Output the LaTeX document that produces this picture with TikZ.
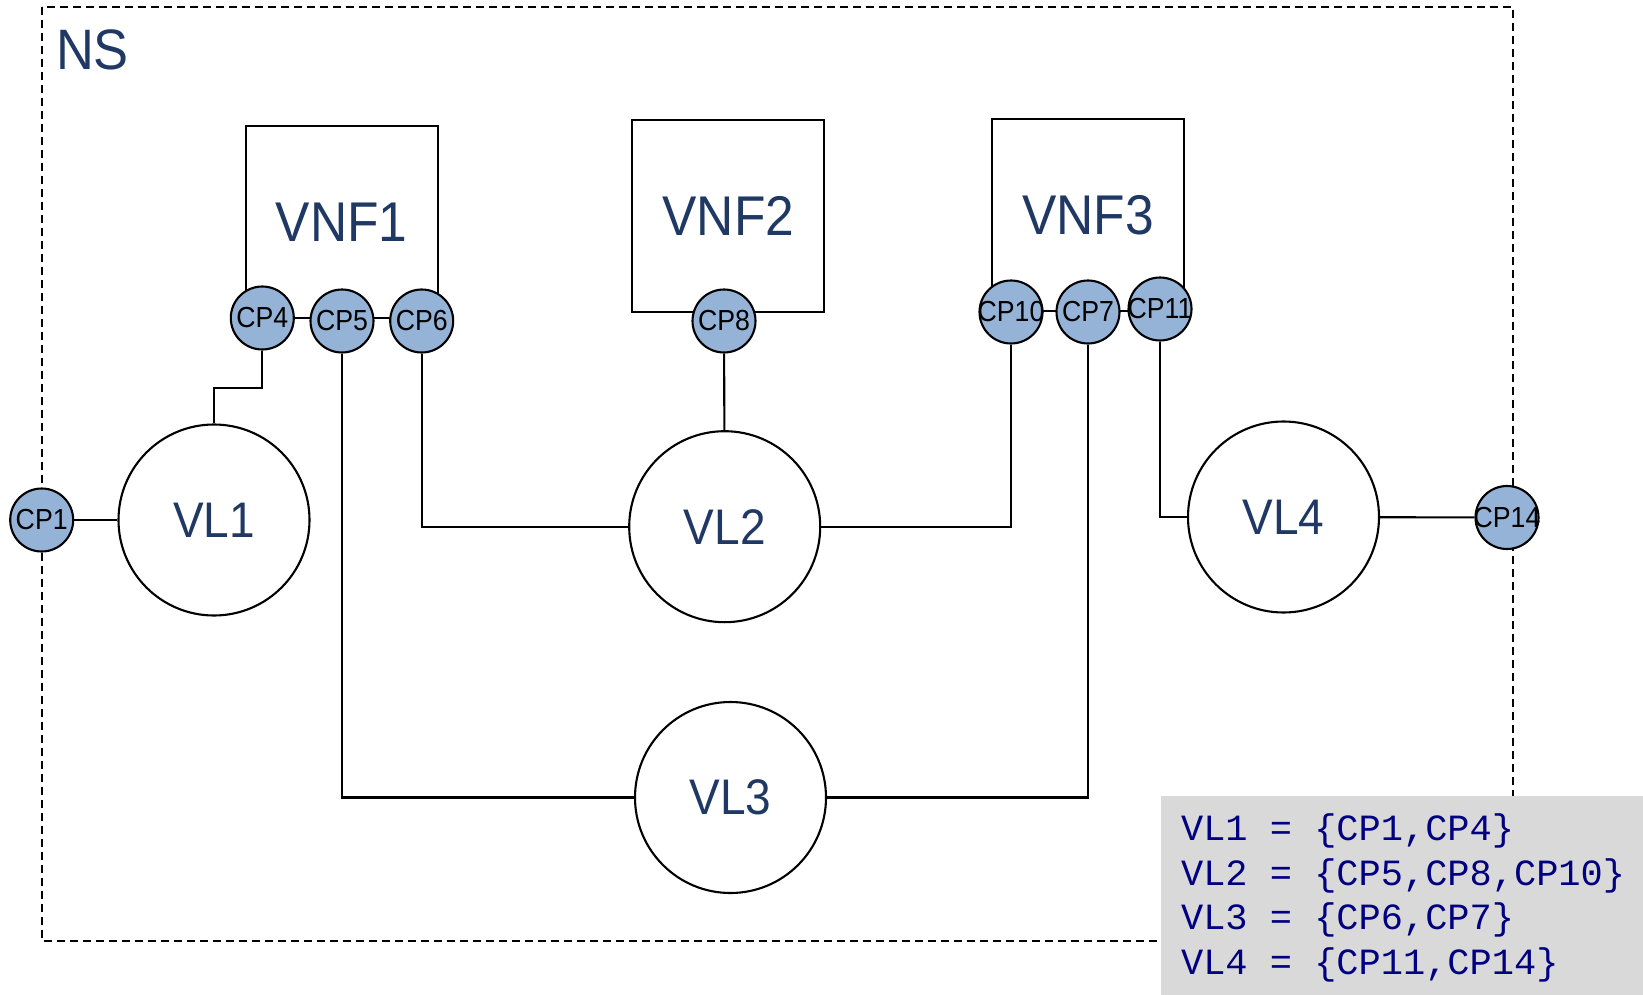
\documentclass[tikz,border=0pt]{standalone}
\usepackage{fontspec}
\newfontfamily\lblfont[FakeStretch=0.92]{Liberation Sans}
\newfontfamily\cpfont[FakeStretch=0.92]{Liberation Sans}
\newfontfamily\codefont{Liberation Mono}
\definecolor{lblblue}{RGB}{31,56,100}
\definecolor{cpfill}{RGB}{149,179,215}
\definecolor{graybg}{RGB}{217,217,217}
\definecolor{navytxt}{RGB}{0,0,128}
\newcommand{\cptext}[1]{\makebox[0pt][c]{#1}}
\begin{document}
\begin{tikzpicture}[x=1pt,y=-1pt,
  line width=2.1pt,
  vnfbox/.style={draw=black, rectangle, minimum width=192pt, minimum height=192pt, inner sep=0pt,
    text=lblblue, font=\lblfont\fontsize{56}{62}\selectfont},
  vlcirc/.style={draw=black, fill=white, circle, minimum size=191pt, inner sep=0pt,
    text=lblblue, font=\lblfont\fontsize{50}{56}\selectfont},
  cpcirc/.style={draw=black, fill=cpfill, circle, minimum size=63pt, inner sep=0pt,
    text=black, font=\cpfont\fontsize{29}{32}\selectfont},
  codeline/.style={anchor=base west, inner sep=0pt, text=navytxt,
    font=\codefont\fontsize{37}{44}\selectfont},
  nsborder/.style={draw=black, line width=1.9pt, dash pattern=on 8pt off 5pt},
  link/.style={draw=black, line width=2.1pt}
]
\useasboundingbox (0,0) rectangle (1643,995);
% NS border
\draw[nsborder] (41.7,7.3) rectangle (1513,941);
\node[anchor=base west, inner sep=0pt, text=lblblue, font=\lblfont\fontsize{57}{62}\selectfont] (NS) at (55,70) {NS};
% VNF boxes
\node[vnfbox] (VNF1) at (341.8,222) {VNF1};
\node[vnfbox] (VNF2) at (728.4,216.2) {VNF2};
\node[vnfbox] (VNF3) at (1087.9,215) {VNF3};
% VL circles
\node[vlcirc] (VL1) at (214,520) {VL1};
\node[vlcirc] (VL2) at (724.7,526.7) {VL2};
\node[vlcirc] (VL3) at (730.5,797.5) {VL3};
\node[vlcirc] (VL4) at (1283.5,517) {VL4};
% CPs
\node[cpcirc] (CP1) at (41.7,520) {\cptext{CP1}};
\node[cpcirc] (CP4) at (262.3,318) {\cptext{CP4}};
\node[cpcirc] (CP5) at (342,321) {\cptext{CP5}};
\node[cpcirc] (CP6) at (421.7,321) {\cptext{CP6}};
\node[cpcirc] (CP8) at (724,321) {\cptext{CP8}};
\node[cpcirc] (CP10) at (1011,312) {\cptext{CP10}};
\node[cpcirc] (CP7) at (1088,312) {\cptext{CP7}};
\node[cpcirc] (CP11) at (1160,309) {\cptext{CP11}};
\node[cpcirc] (CP14) at (1507,517.5) {\cptext{CP14}};
% connectors
\draw[link] (CP1) -- (VL1);
\draw[link] (CP4.south) -- ++(0,37) -| (VL1.north);
\draw[link] (CP5.south) |- (VL3.west);
\draw[link] (CP6.south) |- (VL2.west);
\draw[link] (CP8) -- (VL2);
\draw[link] (VL2.east) -| (CP10.south);
\draw[link] (VL3.east) -| (CP7.south);
\draw[link] (CP11.south) |- (VL4.west);
\draw[link] (VL4) -- (CP14);
% legend
\fill[graybg] (1161,796) rectangle (1643,995);
\node[codeline] (L1) at (1180,840.7) {VL1 = \{CP1,CP4\}};
\node[codeline] (L2) at (1180,885.2) {VL2 = \{CP5,CP8,CP10\}};
\node[codeline] (L3) at (1180,929.7) {VL3 = \{CP6,CP7\}};
\node[codeline] (L4) at (1180,974.2) {VL4 = \{CP11,CP14\}};
\end{tikzpicture}
\end{document}
